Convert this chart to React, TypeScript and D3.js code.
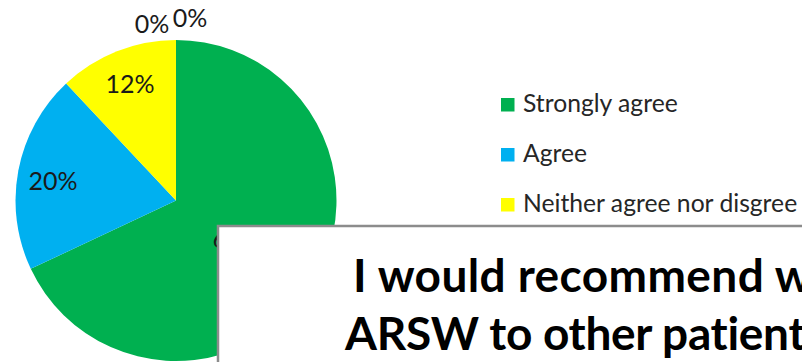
import React from "react";
import * as d3 from "d3";

const categories = [
  "Strongly agree",
  "Agree",
  "Neither agree nor disgree",
  "Disagree",
  "Strongly disagree",
];
const values = [68, 20, 12, 0, 0];
const colors = ["#00B050", "#00B0F0", "#FFFF00", "#ED7D31", "#C00000"];
const titleLines = ["I would recommend working with", "ARSW to other patients"];

const W = 802;
const H = 362;
const FONT = "Lato, 'Open Sans', sans-serif";

export default function App() {
  const cx = 176;
  const cy = 200.5;
  const R = 160.5;
  const total = d3.sum(values);

  const pie = d3
    .pie<number>()
    .sort(null)
    .value((d) => d)
    .startAngle(0)
    .endAngle(2 * Math.PI);
  const arcs = pie(values);
  const arc = d3.arc<d3.PieArcDatum<number>>().innerRadius(0).outerRadius(R);

  // label positions
  const labels = arcs.map((a, i) => {
    const frac = a.value / total;
    const lr = frac === 0 ? R + 20 : frac > 0.5 ? R * 0.45 : R * 0.78;
    const la = d3.arc<d3.PieArcDatum<number>>().innerRadius(lr).outerRadius(lr);
    const [x, y] = la.centroid(a);
    return { x, y, text: d3.format(".0%")(frac), i, zero: frac === 0, frac };
  });
  // nudge the small inside label on the left slightly down, as Excel's best fit does
  labels.forEach((l) => {
    if (!l.zero && l.frac < 0.5 && l.x < -100) l.y += 4;
  });
  // spread overlapping zero labels
  const zeros = labels.filter((l) => l.zero);
  zeros.forEach((l, k) => {
    const off = k - (zeros.length - 1) / 2;
    l.x += off * 38 - 5;
    l.y += off * -6 + 1;
  });

  const legendX = 501;
  const legendY = 98;
  const legendStep = 50;
  const sq = 13.5;

  const boxX = 218;
  const boxY = 226;

  return (
    <svg
      width={W}
      height={H}
      style={{ position: "absolute", left: 0, top: 0, background: "#fff" }}
    >
      <rect x={0} y={0} width={W} height={H} fill="#fff" />
      <g transform={`translate(${cx},${cy})`}>
        {arcs.map((a, i) => (
          <path key={i} d={arc(a) || ""} fill={colors[i]} />
        ))}
        {labels.map((l) => (
          <text
            key={l.i}
            x={l.x}
            y={l.y}
            dy="0.36em"
            textAnchor="middle"
            fontFamily={FONT}
            fontSize={25}
            fill="#1a1a1a"
          >
            {l.text}
          </text>
        ))}
      </g>
      <g>
        {categories.map((c, i) => (
          <g key={c} transform={`translate(${legendX},${legendY + i * legendStep})`}>
            <rect width={sq} height={sq} fill={colors[i]} />
            <text x={22} y={14} fontFamily={FONT} fontSize={24.7} fill="#262626">
              {c}
            </text>
          </g>
        ))}
      </g>
      <rect
        x={boxX}
        y={boxY}
        width={W}
        height={H}
        fill="#fff"
        stroke="#8c8c8c"
        strokeWidth={2.5}
      />
      <text
        x={353}
        y={292}
        fontFamily={FONT}
        fontWeight={700}
        fontSize={46}
        letterSpacing={0.4}
        fill="#000"
      >
        {titleLines[0]}
      </text>
      <text
        x={345}
        y={350}
        fontFamily={FONT}
        fontWeight={700}
        fontSize={46}
        letterSpacing={-0.3}
        fill="#000"
      >
        {titleLines[1]}
      </text>
    </svg>
  );
}
